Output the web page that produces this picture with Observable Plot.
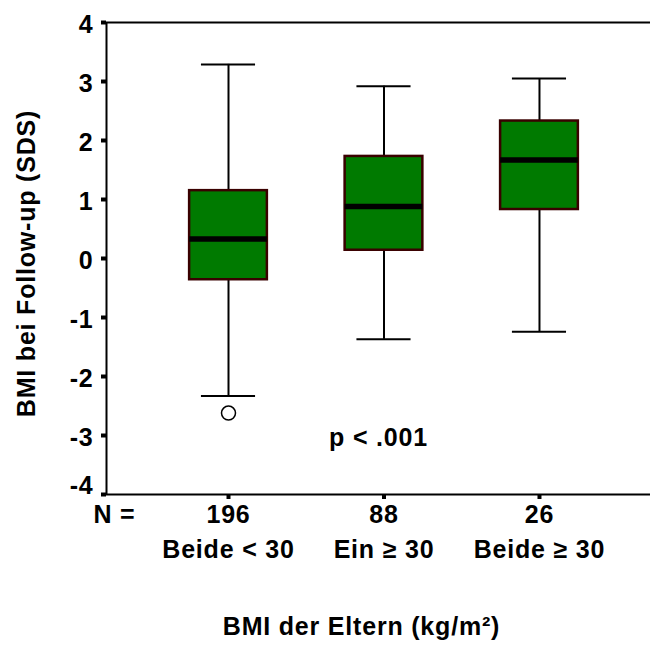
<!DOCTYPE html>
<html>
<head>
<meta charset="utf-8">
<script src="https://cdn.jsdelivr.net/npm/d3@7"></script>
<script src="https://cdn.jsdelivr.net/npm/@observablehq/plot@0.6"></script>
<style>
  html, body { margin: 0; padding: 0; background: white; }
  #chart svg { display: block; }
  #chart svg text { letter-spacing: 0.8px; }
</style>
</head>
<body>
<div id="chart"></div>
<script>
// ---- data ----
const categories = ["Beide < 30", "Ein \u2265 30", "Beide \u2265 30"];
const nLabels = ["196", "88", "26"];
const whiskerLow = [-2.33, -1.37, -1.24];
const q1 = [-0.36, 0.14, 0.83];
const median = [0.33, 0.88, 1.67];
const q3 = [1.15, 1.73, 2.33];
const whiskerHigh = [3.29, 2.92, 3.05];
const outlierGroup = [0];
const outlierValue = [-2.62];
const yTicks = [-4, -3, -2, -1, 0, 1, 2, 3, 4];

const yTitle = "BMI bei Follow-up (SDS)";
const xTitle = "BMI der Eltern (kg/m\u00b2)";
const nTitle = "N =";
const pText = "p < .001";

// ---- derived tables ----
const rows = categories.map((c, i) => ({
  pos: i + 1, cat: c, n: nLabels[i],
  lo: whiskerLow[i], q1: q1[i], med: median[i], q3: q3[i], hi: whiskerHigh[i]
}));
const outliers = outlierGroup.map((g, i) => ({pos: g + 1, value: outlierValue[i]}));
const yMin = yTicks[0];
const innerTicks = yTicks.filter(d => d !== yMin);

const boxHalf = 0.25, capHalf = 0.174;
const xDomain = [0.2154, 3.714];
const font = "'Liberation Sans', Arial, Helvetica, sans-serif";

const chart = Plot.plot({
  width: 650,
  height: 653,
  marginLeft: 106,
  marginRight: 0,
  marginTop: 22,
  marginBottom: 159,
  style: {fontFamily: font, fontWeight: "bold", fontSize: "25px", color: "black", background: "white"},
  x: {domain: xDomain},
  y: {domain: [-4, 4]},
  marks: [
    // frame lines (top, bottom, left)
    Plot.ruleY([-4, 4], {stroke: "black", strokeWidth: 2}),
    Plot.ruleX([xDomain[0]], {stroke: "black", strokeWidth: 2}),
    // whiskers
    Plot.ruleX(rows, {x: "pos", y1: "lo", y2: "q1", stroke: "black", strokeWidth: 2}),
    Plot.ruleX(rows, {x: "pos", y1: "q3", y2: "hi", stroke: "black", strokeWidth: 2}),
    Plot.ruleY(rows, {y: "lo", x1: d => d.pos - capHalf, x2: d => d.pos + capHalf, stroke: "black", strokeWidth: 2}),
    Plot.ruleY(rows, {y: "hi", x1: d => d.pos - capHalf, x2: d => d.pos + capHalf, stroke: "black", strokeWidth: 2}),
    // boxes
    Plot.rect(rows, {x1: d => d.pos - boxHalf, x2: d => d.pos + boxHalf, y1: "q1", y2: "q3",
      fill: "#007a00", stroke: "#3a0000", strokeWidth: 2.5}),
    // medians
    Plot.ruleY(rows, {y: "med", x1: d => d.pos - boxHalf, x2: d => d.pos + boxHalf, stroke: "black", strokeWidth: 5.5}),
    // outliers
    Plot.dot(outliers, {x: "pos", y: "value", r: 7, fill: "white", stroke: "black", strokeWidth: 1.5}),
    // axis ticks
    Plot.axisY({ticks: yTicks, tickSize: 5, strokeWidth: 4, tickFormat: () => "", label: null}),
    Plot.axisX({ticks: rows.map(d => d.pos), tickSize: 5, strokeWidth: 4, tickFormat: () => "", label: null}),
    // y tick labels
    Plot.text(innerTicks, {y: d => d, text: d => String(d), frameAnchor: "left", dx: -13, dy: 2,
      textAnchor: "end", fontSize: 25, fontWeight: "bold"}),
    Plot.text([yMin], {y: d => d, text: d => String(d), frameAnchor: "left", dx: -13, dy: -9,
      textAnchor: "end", fontSize: 25, fontWeight: "bold"}),
    // N row and category row
    Plot.text(rows, {x: "pos", text: "n", frameAnchor: "bottom", dy: 28, fontSize: 25, fontWeight: "bold"}),
    Plot.text(rows, {x: "pos", text: "cat", frameAnchor: "bottom", dy: 63, fontSize: 25, fontWeight: "bold"}),
    Plot.text([nTitle], {frameAnchor: "bottom-left", dx: -13, dy: 28, textAnchor: "start", fontSize: 25, fontWeight: "bold"}),
    // p value
    Plot.text([pText], {frameAnchor: "bottom", dy: -49, fontSize: 25, fontWeight: "bold"}),
    // titles
    Plot.text([xTitle], {frameAnchor: "bottom", dx: -17, dy: 140, fontSize: 25, fontWeight: "bold"}),
    Plot.text([yTitle], {frameAnchor: "left", dx: -80, dy: 5, rotate: -90, textAnchor: "middle", fontSize: 25, fontWeight: "bold"})
  ]
});
document.getElementById("chart").append(chart);
</script>
</body>
</html>
